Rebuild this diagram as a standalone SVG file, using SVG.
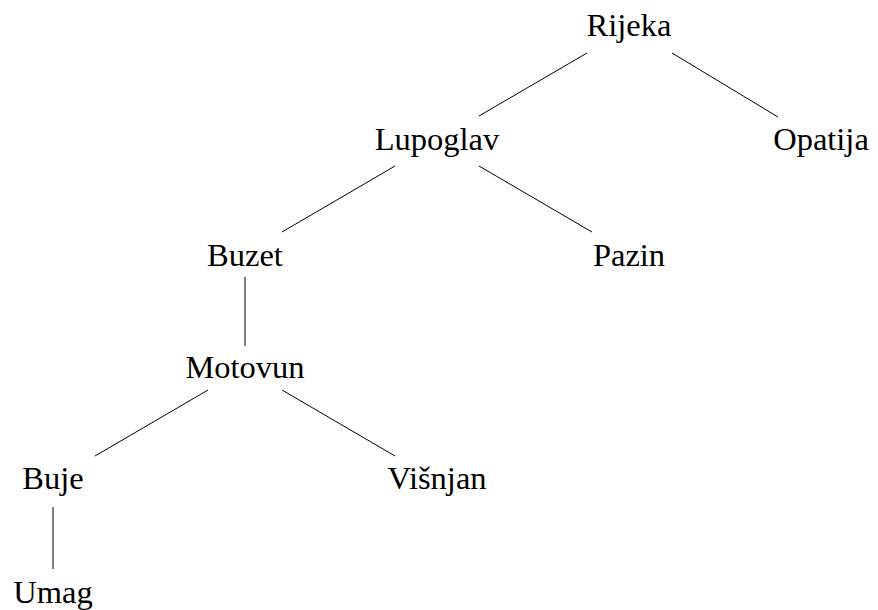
<svg xmlns="http://www.w3.org/2000/svg" width="878" height="610" viewBox="0 0 878 610">
<style>
text{font-family:"Liberation Serif","Times New Roman",serif;font-size:32.5px;fill:#000;text-anchor:middle}
line{stroke:#000;stroke-width:1}
</style>
<rect width="878" height="610" fill="#fff"/>
<g id="connectors">
<line x1="587" y1="53" x2="479" y2="116"/>
<line x1="672" y1="53" x2="778" y2="117"/>
<line x1="395" y1="166" x2="282" y2="232"/>
<line x1="479" y1="166" x2="592" y2="232"/>
<line x1="245" y1="277" x2="245" y2="346"/>
<line x1="208" y1="390" x2="95" y2="456"/>
<line x1="282" y1="390" x2="395" y2="456"/>
<line x1="53" y1="507" x2="53" y2="569"/>
</g>
<g id="rijeka"><text x="629" y="36">Rijeka</text></g>
<g id="lupoglav"><text x="437" y="150">Lupoglav</text></g>
<g id="opatija"><text x="821" y="150">Opatija</text></g>
<g id="buzet"><text x="245" y="266">Buzet</text></g>
<g id="pazin"><text x="629" y="266">Pazin</text></g>
<g id="motovun"><text x="245" y="378">Motovun</text></g>
<g id="buje"><text x="53" y="489">Buje</text></g>
<g id="visnjan"><text x="437" y="489">Višnjan</text></g>
<g id="umag"><text x="53" y="603">Umag</text></g>
</svg>
